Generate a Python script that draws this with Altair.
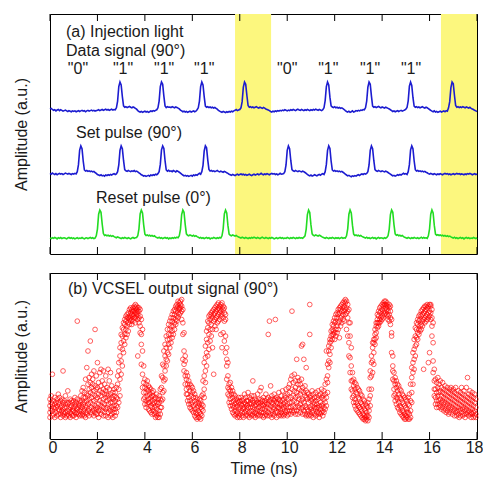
import altair as alt
import pandas as pd

# ---------------- values ----------------
x_ticks = [0, 2, 4, 6, 8, 10, 12, 14, 16, 18]
highlight_start = [7.80, 16.48]
highlight_end = [9.32, 18.0]

quote_t = [1.18, 3.08, 4.81, 6.50, 10.0, 11.73, 13.49, 15.22]
quote_txt = ['"0"', '"1"', '"1"', '"1"', '"0"', '"1"', '"1"', '"1"']

trace_names = ["Data signal (90°)", "Set pulse (90°)", "Reset pulse (0°)"]
trace_colors = ["#1c1cd0", "#1c1cd0", "#22dc22"]
trace_offset = [514, 286, 57]  # stacking of the three traces (layout)

# panel (a) traces, one row per ns, samples every 0.05 ns, pulse height = 100
data_signal = [
    [4, 6, 2, -1, 1, -3, 0, 2, -2, 1, -1, -4, -2, 0, -3, -5, -2, -4, -6, -3],
    [-5, -3, -6, -4, -2, -5, -3, -1, -4, -2, -6, -3, -1, -4, -2, 0, -3, -1, -4, -2],
    [-1, 1, -2, 0, 2, -1, 1, 3, 0, 2, -1, 1, 3, 0, 2, 1, 8, 32, 84, 100],
    [90, 48, 15, 10, 12, 9, 11, 13, 10, 8, 11, 9, 6, 3, -2, -5, -7, -5, -8, -6],
    [-4, -7, -5, -8, -6, -3, -5, -2, -4, -1, 1, 8, 32, 84, 100, 92, 50, 15, 9, 12],
    [10, 11, 9, 12, 10, 8, 11, 9, 7, 4, 0, -3, -6, -4, -7, -5, -8, -6, -4, -7],
    [-5, -3, -6, -4, 1, 8, 32, 84, 100, 90, 48, 14, 10, 12, 9, 11, 8, 10, 7, 9],
    [6, 3, -1, -4, -6, -8, -5, -7, -9, -6, -8, -5, -7, -4, -6, -3, -1, 2, -2, 0],
    [2, 8, 30, 82, 100, 92, 52, 16, 10, 12, 9, 11, 8, 10, 12, 9, 7, 10, 8, 6],
    [9, 7, 4, 2, 0, -2, -5, -7, -4, -6, -3, -5, -2, -4, -1, -3, 0, -2, 1, -1],
    [-3, 0, -2, 1, -1, 2, 0, -2, 1, 3, 0, -1, 2, 0, -2, 1, -1, 2, 0, -2],
    [1, -1, 2, 0, 3, 1, -1, 2, 0, -2, 1, 8, 34, 84, 100, 90, 46, 15, 11, 9],
    [12, 8, 10, 7, 9, 6, 8, 5, 2, -2, -5, -7, -4, -8, -6, -3, -7, -5, -2, -4],
    [-1, -3, 0, -1, 2, 1, 8, 32, 82, 100, 92, 50, 14, 10, 12, 9, 11, 13, 10, 8],
    [11, 9, 7, 10, 8, 6, 4, 1, -2, -5, -3, -6, -4, -2, -5, -3, -1, -4, -2, 0],
    [3, 9, 33, 85, 100, 88, 45, 14, 10, 12, 9, 11, 8, 10, 12, 9, 7, 10, 8, 5],
    [2, -1, -4, -6, -3, -7, -5, -8, -6, -4, -7, -5, -3, -6, -2, -4, 8, 30, 80, 100],
    [94, 52, 16, 10, 12, 9, 11, 9, 12, 10, 8, 11, 9, 7, 10, 6, 4, 2, -1, -3],
    [-5],
]
set_pulse = [
    [2, -1, 3, 0, -2, 1, -3, 0, 2, -1, 1, -2, 0, 3, 1, -1, 2, 0, -2, 1],
    [-1, 2, 0, 8, 33, 85, 100, 90, 46, 14, 10, 12, 9, 11, 8, 10, 7, 9, 5, 2],
    [-2, -4, -6, -3, -7, -5, -8, -4, -6, -3, -5, -2, -4, -1, 1, -2, 0, 8, 32, 84],
    [100, 90, 48, 15, 11, 9, 12, 10, 8, 11, 9, 12, 8, 10, 7, 4, 1, -3, -5, -8],
    [-6, -9, -7, -5, -8, -4, -6, -3, -5, -1, -3, 1, 8, 34, 86, 100, 91, 47, 14, 10],
    [13, 9, 11, 8, 12, 10, 7, 11, 9, 6, 3, -1, -4, -7, -5, -8, -6, -9, -7, -5],
    [-8, -4, -6, -3, -5, -1, 2, -1, 8, 30, 82, 100, 93, 50, 16, 10, 12, 9, 11, 8],
    [10, 12, 9, 7, 10, 8, 6, 9, 7, 4, 2, -1, -3, -5, -2, -4, -6, -3, -1, -4],
    [-2, 0, -3, -1, -4, -2, -5, -3, -1, -4, -6, -3, -1, -4, -2, 0, -3, -1, 2, -1],
    [-3, 0, -2, 1, -1, -3, 0, 2, -1, 1, -2, 0, -3, -1, 2, -1, 0, 1, 8, 32],
    [84, 100, 90, 48, 15, 11, 9, 12, 10, 8, 11, 9, 7, 10, 8, 5, 2, -2, -5, -7],
    [-4, -8, -6, -3, -5, -7, -4, -2, -5, -1, 1, -2, 8, 34, 84, 100, 91, 46, 14, 10],
    [12, 9, 11, 8, 10, 7, 9, 6, 3, -1, -4, -7, -5, -8, -10, -7, -9, -6, -8, -5],
    [-3, -6, -2, 0, -2, 1, -1, 2, 8, 32, 84, 100, 90, 48, 15, 11, 9, 12, 10, 8],
    [11, 9, 7, 10, 8, 5, 2, -1, -4, -7, -5, -8, -6, -3, -5, -2, -4, -1, 2, -1],
    [1, -2, 8, 33, 86, 100, 90, 47, 15, 10, 12, 9, 11, 8, 10, 7, 9, 6, 4, 1],
    [-1, 2, 0, -2, 1, -1, -3, 0, -2, 1, -1, -3, 0, 2, -1, 1, -2, 0, -3, -1],
    [1, -2, 0, 2, -1, 1, -2, 0, -1, -3, 0, -2, 1, -1, 2, 0, -3, -1, 1, -2],
    [0],
]
reset_pulse = [
    [0, -2, 1, -1, 2, 0, -3, 1, -1, 2, -2, 0, 1, -1, -3, 0, 2, -1, 1, -2],
    [0, -3, -1, 1, -2, 0, -1, 2, -1, -3, 0, 1, -2, 0, 2, -1, 1, -2, 0, 8],
    [32, 85, 100, 92, 50, 16, 9, 11, 8, 10, 7, 9, 6, 8, 5, 3, 1, 4, 2, 0],
    [-2, 1, -1, 2, 0, -2, 1, -1, -3, 0, 2, -1, 1, 2, 8, 33, 86, 100, 90, 46],
    [14, 9, 11, 8, 10, 7, 9, 6, 8, 4, 2, 0, 3, -1, 1, -2, 0, 2, -1, 1],
    [-3, 0, -2, 1, -1, 2, 0, 3, 1, 8, 31, 84, 100, 92, 48, 15, 10, 8, 11, 9],
    [7, 10, 6, 8, 5, 3, 0, 2, -1, 1, -2, 0, 2, -1, 1, -3, 0, -1, 2, 0],
    [-2, 1, -1, 2, 0, 8, 33, 86, 100, 90, 45, 14, 10, 8, 11, 9, 7, 9, 6, 4],
    [2, 0, 3, 1, -1, 2, 0, -2, 1, -1, 2, 0, 3, 1, -1, 2, 0, -2, 1, 3],
    [0, -1, 2, 0, -2, 1, -1, 2, 0, -3, -1, 1, -2, 0, 2, -1, 1, -2, 0, -1],
    [2, 0, -2, 1, -1, 2, 0, -2, 1, -1, 2, 0, 1, -1, 3, 8, 32, 84, 100, 91],
    [47, 15, 10, 8, 11, 9, 7, 10, 8, 5, 3, 1, -1, 2, 0, -2, 1, -1, 2, 0],
    [-2, 1, -1, 1, -2, 0, 2, -1, 1, 0, 8, 33, 85, 100, 90, 46, 14, 9, 11, 8],
    [10, 7, 9, 6, 4, 2, 0, 3, -1, 1, -2, 0, 2, -1, 1, -3, 0, 2, -1, 1],
    [0, -2, 1, -1, 2, 8, 32, 84, 100, 92, 48, 15, 10, 12, 8, 10, 7, 9, 5, 3],
    [1, -1, 2, 0, -2, 1, -1, 2, 0, -1, 1, -2, 0, 3, -1, 2, 0, 1, -1, 8],
    [33, 85, 100, 90, 45, 14, 10, 12, 9, 11, 8, 10, 7, 9, 6, 8, 5, 7, 4, 2],
    [0, 3, -1, 1, -2, 0, 2, -1, 1, -3, 0, 2, -1, 1, -2, 0, -1, 2, 0, -2],
    [1],
]

# panel (b): VCSEL output samples (% of panel height), one string per ns,
# 20 columns of 0.05 ns separated by "|"
vcsel = [
    "20 16 24 13|22 18 26|17 39 21 14|19 23 15|25 18 21 13|16 22 19|14 20 24|27 18 15 22|21 17 25|15 19 23 13|20 24 17|18 14 22 16 41|23 19 15|16 21 26 13|19 14 22|29 17 21 15|22 18 14|16 24 19 13|20 15 23|18 22 14 17",
    "19 14 23 17|21 16 25|15 20 13 22|71 18 24 16|21 15 19|23 17 14 20|26 18 22 15|19 29 14 23|31 17 21 25 15|22 28 18 14|36 20 25 16 13|43 27 19 23 15|53 33 21 17 26|30 24 18 14 37|59 28 22 16 34|39 25 19 31 15|33 27 21 17 36|29 23 41 18 14|66 32 26 20 16|38 30 24 18 15",
    "46 31 25 19 15|34 27 21 17 13|40 29 23 18|32 26 20 15 42|28 35 22 17|41 30 24 19 14|33 27 21 16|29 25 38 18 14|31 23 19 27|42 26 21 16 13|30 24 18 35|27 22 17 14 40|32 25 19 15|28 22 18 24 13|26 20 16 30|23 18 28 14|25 20 31 16|33 24 19 38|41 30 22 46|50 36 26 55",
    "58 47 39 63|62 54 67 44|66 59 70 52|69 63 72 57|71 66 74 61|73 68 75 63|70 76 65 73|74 78 69 72|76 71 79 73|75 78 72 77 69|79 74 77 71|77 80 73 75|79 76 81 73 70|78 74 80 76|75 79 72 77 50|77 73 79 70|74 78 68 64|72 57 63 45|53 39 66 31|34 28 44 24",
    "31 25 36 21|28 33 23 19|26 30 21 35|29 24 18 32 22|27 22 31 17|25 30 20 16|23 28 19 26 15|21 26 17 29|24 19 15 22|20 25 16 13|18 22 14 27|21 15 24 13|17 22 13 26|24 19 30 15|31 23 38 19|37 28 45 24|44 35 53 29|50 41 57 36|55 48 62 44|60 52 66 47",
    "63 57 69 51|66 60 71 55|68 63 73 58|71 65 75 61|73 68 77 63|75 70 78 66|77 72 80 69|79 74 81 71|80 76 83 73|82 78 75 79|83 79 76 81|80 84 77 72|78 70 63 48|64 53 45 41|50 38 47 33|36 30 40 27|33 27 38 23|31 25 35 21|29 23 33 19|32 26 21 18",
    "28 22 17 31|25 20 16 29|23 18 27 14|21 16 25 13|19 24 15 12|17 22 13 20|16 21 13 24|15 19 12 23|18 14 26 21|27 20 35 17|38 30 46 25|49 41 56 34|60 52 44 65|67 58 50 71|70 63 54 74|72 66 59 75|74 69 62 76|73 77 66 55|75 71 78 39|76 72 79 68",
    "77 73 80 66|78 74 81 70|79 75 82 71|80 76 72 78|81 77 74 63|79 75 82 55|78 73 80 64|76 71 79 59|72 62 52 75|55 44 36 48|38 31 27 46|33 26 22 30|29 24 20 34|27 22 18 31|25 20 16 29|23 19 27 15|21 17 26 14|24 19 15 22|20 16 23 13|22 18 14 25",
    "19 15 23 13|21 17 25|16 20 14 23|18 24 13 21|22 16 19 27|17 21 14 25|20 15 23 18|23 19 14 28|16 21 25 13|19 24 15 22|21 17 26 14|35 19 23 15|18 22 14 26|20 16 24 13|23 18 15 21|17 22 27 14|19 15 24 21|22 17 29 14|31 20 16 24|18 23 14 21",
    "20 16 25 13|23 18 14 21|17 22 27 15|19 24 14 21|63 21 16 25|71 18 23 14|32 20 15 24|22 17 26 13|19 24 15 21|23 18 14 27|72 20 16 24|17 22 13 25|21 16 24 19|24 19 14 28|18 23 15 21|20 26 16 14|23 18 29 15|19 24 14 21|22 17 26 15|25 20 16 30",
    "21 17 27 14|24 19 31 15|33 22 17 28|36 25 19 15|77 30 22 17 38|34 26 20 16|39 29 23 17|31 25 35 19 15|48 28 22 17|33 26 20 37 15|30 24 19 35|27 33 21 16|56 29 23 18 36|57 31 24 19 15|48 28 22 17|26 32 20 15|43 25 19 29 14|24 28 18 15|22 27 17 14|81 63 25 19 15",
    "23 18 14 26|20 16 24 29|22 17 13 27|19 25 15 21|23 18 28 14|21 16 25 19|24 19 15 29|20 26 16 13|22 18 27 15|25 20 16 30|21 17 26 14|24 19 29 16|22 27 18 33|36 25 53 20|45 38 34 28|53 47 56 43|58 51 60 46|62 55 65 59|66 60 69 63|68 63 71 65",
    "70 64 73 60|71 66 75 62|73 68 76 64|75 70 78 66|76 71 79 61|78 73 80 68|77 81 74 70|79 82 75 72|80 77 83 71|82 78 75 84|83 79 76 66|81 77 73 62|78 70 58 50|62 49 40 70|44 35 30 55|35 29 25 40|32 26 22 36|30 24 20 34|28 22 18 33|27 21 17 31",
    "25 20 16 30|24 19 15 29|22 18 14 27|21 17 13 26|20 15 24 12|18 14 23 12|17 13 21 11|16 12 20 14|14 11 19 22|17 13 24 30|37 26 20 41|46 38 30 50|55 47 40 58|60 52 58 45|63 57 66 60|68 64 70 61|72 67 75 70|74 70 77 68|76 72 79 70|77 73 80 71",
    "78 74 81 72|80 76 82 73|81 77 83 75|83 79 76 81|82 78 75 80|80 77 74 72|79 75 81 71|77 73 69 80|72 64 52 62|44 41 36 50|35 30 26 40|33 27 23 37|31 25 21 35|29 24 19 33|27 22 18 32|25 20 16 30|24 19 15 29|22 17 14 27|21 16 13 26|20 15 12 25",
    "19 14 24 12|18 13 23 16|16 12 21 25|15 12 20 27|23 17 33 13|37 28 43 22|46 40 52 33|54 48 60 42|62 56 67 50|66 61 70 57|69 64 72 60|71 66 74 63|72 68 75 65|74 69 77 66|75 71 78 68|76 72 79 42|77 73 80 70|78 74 80 71|79 75 81 72|80 76 46 73",
    "81 77 74 52|80 76 72 81|78 73 68 62|70 58 47 40|42 35 30 26|36 30 25 21|34 28 23 19|37 31 26 21|33 28 23 19|35 29 24 20|31 26 22 18|34 28 23 19|30 25 21 17|32 27 22 18|29 24 20 16|31 26 21 17|28 23 19 15|30 25 20 16|27 22 18 31|29 24 19 15",
    "26 21 17 30|28 23 18 14|25 20 16 31|27 22 17 14|24 19 29 15|26 21 17 13|23 18 28 14|25 20 16 31|22 18 27 14|24 19 15 29|21 17 26 13|23 18 31 15|37 20 16 25|22 17 27 14|24 19 15 29|21 16 26 13|23 18 28 15|20 16 25 13|22 17 27 14|19 15 24 13",
]

# ---------------- tables ----------------
rows = []
for name, segs, off in zip(trace_names, [data_signal, set_pulse, reset_pulse], trace_offset):
    for s, seg in enumerate(segs):
        for i, v in enumerate(seg):
            rows.append({"t": round(s + 0.05 * i, 3), "amp": v + off, "trace": name})
traces = pd.DataFrame(rows)

prow = []
for s, seg in enumerate(vcsel):
    for i, grp in enumerate(seg.split("|")):
        for v in grp.split():
            prow.append({"t": round(s + 0.05 * i, 3), "amp": int(v)})
vc = pd.DataFrame(prow)

hl_df = pd.DataFrame({"start": highlight_start, "end": highlight_end})
tick_df = pd.DataFrame({"t": x_ticks})
quote_df = pd.DataFrame({"t": quote_t, "q": quote_txt})

W, H1, H2 = 427, 240, 166
FONT = "Liberation Sans"
TXT = "#1a1a1a"
xs = alt.Scale(domain=[0, 18], nice=False, zero=False)

yaxis = alt.Axis(title="Amplitude (a.u.)", labels=False, ticks=False, domain=False,
                 grid=False, titleFontSize=16, titleFontWeight="normal",
                 titleColor=TXT, titlePadding=21, minExtent=0)

xaxis_bottom = alt.Axis(values=x_ticks, format="d", ticks=False, domain=False, grid=False,
                        labelFontSize=16, labelPadding=0, labelOffset=2, labelFlush=True,
                        labelFlushOffset=4, labelColor=TXT, title="Time (ns)",
                        titleFontSize=16, titleFontWeight="normal", titleColor=TXT,
                        titlePadding=5)


def ticks(h, axis):
    top = alt.Chart(tick_df).mark_rule(color="black", strokeWidth=1).encode(
        x=alt.X("t:Q", scale=xs, axis=axis), y=alt.value(0), y2=alt.value(7))
    bot = alt.Chart(tick_df).mark_rule(color="black", strokeWidth=1).encode(
        x=alt.X("t:Q", scale=xs, axis=axis), y=alt.value(h - 7), y2=alt.value(h))
    return [top, bot]


def label(text, x, y):
    return alt.Chart(pd.DataFrame({"s": [text]})).mark_text(
        align="left", baseline="middle", fontSize=16, font=FONT, color=TXT
    ).encode(text="s:N", x=alt.value(x), y=alt.value(y))


# ---------------- panel (a) ----------------
hl = alt.Chart(hl_df).mark_rect(color="#fcf77e").encode(
    x=alt.X("start:Q", scale=xs, axis=None), x2="end:Q",
    y=alt.value(0), y2=alt.value(H1))

lines = alt.Chart(traces).mark_line(strokeWidth=1.6).encode(
    x=alt.X("t:Q", scale=xs, axis=None),
    y=alt.Y("amp:Q", scale=alt.Scale(domain=[0, 857], nice=False, zero=False), axis=yaxis),
    color=alt.Color("trace:N", scale=alt.Scale(domain=trace_names, range=trace_colors), legend=None),
    detail="trace:N",
)

quotes = alt.Chart(quote_df).mark_text(fontSize=16, font=FONT, color=TXT, baseline="middle").encode(
    x=alt.X("t:Q", scale=xs, axis=None), y=alt.value(55), text="q:N")

top = alt.layer(
    hl, lines,
    label("(a) Injection light", 16, 18),
    label("Data signal (90°)", 16, 37),
    quotes,
    label("Set pulse (90°)", 26, 119),
    label("Reset pulse (0°)", 46, 184),
    *ticks(H1, None),
).properties(width=W, height=H1)

# ---------------- panel (b) ----------------
pts = alt.Chart(vc).mark_point(shape="circle", filled=False, color="#ff0000", size=22,
                               strokeWidth=0.9, opacity=0.7).encode(
    x=alt.X("t:Q", scale=xs, axis=xaxis_bottom),
    y=alt.Y("amp:Q", scale=alt.Scale(domain=[0, 100], nice=False, zero=False), axis=yaxis),
)

bottom = alt.layer(
    pts,
    label("(b) VCSEL output signal (90°)", 18, 16),
    *ticks(H2, xaxis_bottom),
).properties(width=W, height=H2)

chart = alt.vconcat(top, bottom, spacing=17).properties(
    padding={"left": 4, "top": 5, "right": -1, "bottom": 2}
).configure(font=FONT).configure_view(stroke="black", strokeWidth=1)

chart.save("out.html", embed_options={"renderer": "svg", "actions": False})
